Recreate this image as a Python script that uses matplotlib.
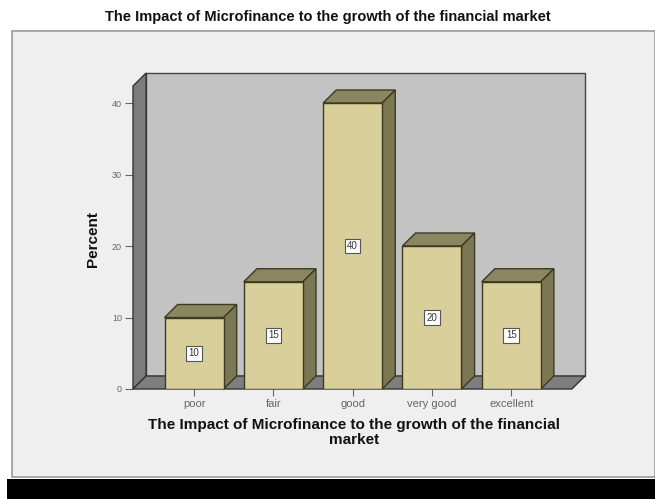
import matplotlib.pyplot as plt
from matplotlib.patches import Polygon, Rectangle

categories = ['poor', 'fair', 'good', 'very good', 'excellent']
percent = [10, 15, 40, 20, 15]
yticks = [0, 10, 20, 30, 40]

title = 'The Impact of Microfinance to the growth of the financial market'
xlabel = 'The Impact of Microfinance to the growth of the financial\nmarket'


def main() -> int:
    plt.rcParams['font.family'] = ['Liberation Sans', 'DejaVu Sans']
    W, H = 655, 499
    fig = plt.figure(figsize=(W / 100, H / 100), dpi=100)
    fig.patch.set_facecolor('white')

    # light panel + black strip at the bottom
    fig.patches.append(Rectangle((12 / W, (H - 477) / H), (W - 12) / W, 446 / H,
                                 transform=fig.transFigure, facecolor='#efefef',
                                 edgecolor='#9a9a9a', linewidth=1.2, zorder=-5))
    fig.patches.append(Rectangle((7 / W, 0), 1, (H - 479) / H,
                                 transform=fig.transFigure, facecolor='black',
                                 edgecolor='none', zorder=-5))
    fig.text(0.5, (H - 17) / H, title, ha='center', va='center',
             fontsize=10.5, fontweight='bold', color='#111111')

    ax = fig.add_axes([133 / W, (H - 389) / H, 452 / W, 316 / H])
    ax.set_facecolor('none')
    x0, x1 = -0.77, 4.93
    top = 44.2
    ax.set_xlim(x0, x1)
    ax.set_ylim(0, top)
    for s in ax.spines.values():
        s.set_visible(False)

    dx, dy = 0.165, 1.82
    xr = x1 - dx
    # back wall, left wall, floor
    ax.add_patch(Rectangle((x0 + dx, dy), xr - x0, top - dy, facecolor='#c3c3c3',
                           edgecolor='#444444', linewidth=1.0, zorder=1, clip_on=False))
    ax.add_patch(Polygon([(x0, 0), (x0 + dx, dy), (x0 + dx, top), (x0, top - dy)],
                         facecolor='#7c7c7c', edgecolor='#333333', linewidth=1.0,
                         zorder=2, clip_on=False))
    ax.add_patch(Polygon([(x0, 0), (xr, 0), (x1, dy), (x0 + dx, dy)],
                         facecolor='#7e7e7e', edgecolor='#333333', linewidth=1.0,
                         zorder=2, clip_on=False))

    pos = list(range(len(categories)))
    w = 0.745
    edge = '#3b3a22'
    ax.bar(pos, percent, width=w, color='#d8cf9a', edgecolor=edge,
           linewidth=1.0, zorder=4)
    for i, v in zip(pos, percent):
        l, r = i - w / 2, i + w / 2
        ax.add_patch(Polygon([(l, v), (r, v), (r + dx, v + dy), (l + dx, v + dy)],
                             facecolor='#8a8660', edgecolor=edge, linewidth=1.0,
                             zorder=3, clip_on=False))
        ax.add_patch(Polygon([(r, 0), (r + dx, dy), (r + dx, v + dy), (r, v)],
                             facecolor='#7a7752', edgecolor=edge, linewidth=1.0,
                             zorder=3, clip_on=False))
        ax.text(i, v / 2, str(v), ha='center', va='center', fontsize=7,
                color='#333333', zorder=5,
                bbox=dict(boxstyle='square,pad=0.25', facecolor='white',
                          edgecolor='#555555', linewidth=0.8))

    ax.set_xticks(pos)
    ax.set_xticklabels(categories)
    ax.set_yticks(yticks)
    ax.tick_params(axis='x', labelsize=8, colors='#666666', length=5,
                   width=0.8, pad=2)
    ax.tick_params(axis='y', labelsize=6.5, colors='#666666', length=6,
                   width=0.8, pad=2)
    ax.set_xlabel(xlabel, fontsize=11, fontweight='bold', color='#111111',
                  linespacing=1.05)
    ax.xaxis.set_label_coords(0.488, -0.093)
    ax.set_ylabel('Percent', fontsize=11, fontweight='bold', color='#111111')
    ax.yaxis.set_label_coords(-0.073, 0.476)

    fig.savefig('out.png', dpi=100)
    return 0


# entry point of program
if __name__ == '__main__':
    main()
